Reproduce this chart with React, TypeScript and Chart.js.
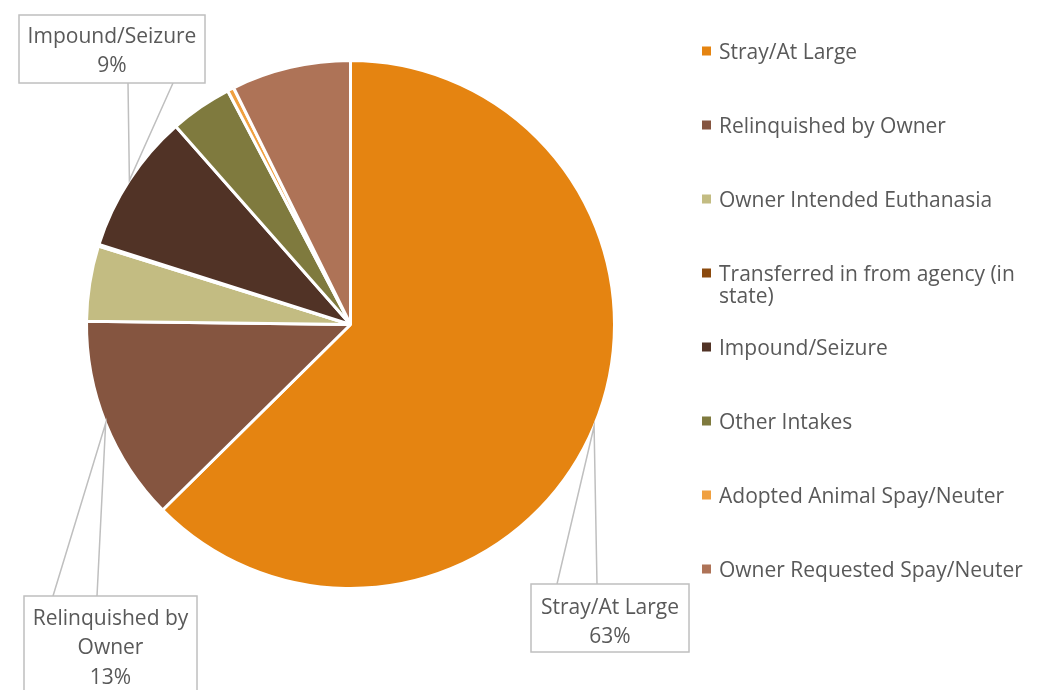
import React, { useEffect, useRef } from "react";
import { Chart, registerables } from "chart.js";

Chart.register(...registerables);

const categories = [
  "Stray/At Large",
  "Relinquished by Owner",
  "Owner Intended Euthanasia",
  "Transferred in from agency (in state)",
  "Impound/Seizure",
  "Other Intakes",
  "Adopted Animal Spay/Neuter",
  "Owner Requested Spay/Neuter",
];
const shares = [62.6, 12.6, 4.6, 0.1, 8.6, 3.8, 0.4, 7.3];
const colors = [
  "#E58411",
  "#855540",
  "#C3BC82",
  "#8B4A0E",
  "#513326",
  "#7F7A3E",
  "#F0A040",
  "#AE7357",
];
const calloutTexts = [
  ["Stray/At Large", "63%"],
  ["Relinquished by", "Owner", "13%"],
  ["Impound/Seizure", "9%"],
];
const calloutIndex = [0, 1, 4];

const FONT_FAMILY = "'Open Sans', 'Noto Sans', sans-serif";
const FONT_SIZE = 21;
const TEXT_COLOR = "#595959";
const LINE_COLOR = "#BFBFBF";
const TEXT_DY = 2;

const calloutBoxes = [
  { x: 531, y: 584, w: 158, h: 68, lx1: 557, lx2: 597, ly: 584, first: 606, gap: 29 },
  { x: 24, y: 596, w: 173, h: 110, lx1: 53, lx2: 97, ly: 596, first: 617, gap: 29.5 },
  { x: 19, y: 15, w: 186, h: 68, lx1: 128, lx2: 173, ly: 83, first: 35, gap: 29 },
];

const legendX = 702;
const legendTextX = 719;
const legendFirstY = 51;
const legendGap = 74;

const overlayPlugin = {
  id: "overlay",
  afterDraw(chart: any) {
    const ctx = chart.ctx as CanvasRenderingContext2D;
    const meta = chart.getDatasetMeta(0);
    ctx.save();
    ctx.font = `${FONT_SIZE}px ${FONT_FAMILY}`;
    ctx.textBaseline = "middle";

    calloutIndex.forEach((idx, k) => {
      const arc = meta.data[idx];
      const p = arc.getProps(["x", "y", "startAngle", "endAngle", "outerRadius"], true);
      const mid = (p.startAngle + p.endAngle) / 2;
      const ax = p.x + Math.cos(mid) * p.outerRadius;
      const ay = p.y + Math.sin(mid) * p.outerRadius;
      const b = calloutBoxes[k];
      ctx.strokeStyle = LINE_COLOR;
      ctx.lineWidth = 1.5;
      ctx.beginPath();
      ctx.moveTo(b.lx1, b.ly);
      ctx.lineTo(ax, ay);
      ctx.lineTo(b.lx2, b.ly);
      ctx.stroke();
      ctx.fillStyle = "#FFFFFF";
      ctx.fillRect(b.x, b.y, b.w, b.h);
      ctx.strokeRect(b.x, b.y, b.w, b.h);
      ctx.fillStyle = TEXT_COLOR;
      ctx.textAlign = "center";
      calloutTexts[k].forEach((line, j) => {
        ctx.fillText(line, b.x + b.w / 2, b.first + j * b.gap + TEXT_DY);
      });
    });

    ctx.textAlign = "left";
    const maxW = 1028 - legendTextX;
    categories.forEach((label, i) => {
      const y = legendFirstY + i * legendGap;
      ctx.fillStyle = colors[i];
      ctx.fillRect(legendX, y - 4.5, 9, 9);
      ctx.fillStyle = TEXT_COLOR;
      const words = label.split(" ");
      const lines: string[] = [];
      let cur = "";
      words.forEach((w) => {
        const t = cur ? cur + " " + w : w;
        if (ctx.measureText(t).width > maxW && cur) {
          lines.push(cur);
          cur = w;
        } else cur = t;
      });
      if (cur) lines.push(cur);
      lines.forEach((ln, j) => ctx.fillText(ln, legendTextX, y + j * 22 + TEXT_DY));
    });
    ctx.restore();
  },
};

export default function App() {
  const ref = useRef<HTMLCanvasElement>(null);
  useEffect(() => {
    document.body.style.margin = "0";
    const chart = new Chart(ref.current!, {
      type: "pie",
      data: {
        labels: categories,
        datasets: [
          {
            data: shares,
            backgroundColor: colors,
            borderColor: "#FFFFFF",
            borderWidth: 3,
          },
        ],
      },
      options: {
        responsive: false,
        animation: false,
        devicePixelRatio: 1,
        layout: { padding: { top: 59, bottom: 100, left: 85, right: 429 } },
        plugins: {
          legend: { display: false },
          tooltip: { enabled: false },
        },
      },
      plugins: [overlayPlugin],
    });
    return () => chart.destroy();
  }, []);
  return (
    <div style={{ position: "absolute", left: 0, top: 0, width: 1045, height: 690, background: "#fff" }}>
      <canvas ref={ref} width={1045} height={690} style={{ display: "block" }} />
    </div>
  );
}
